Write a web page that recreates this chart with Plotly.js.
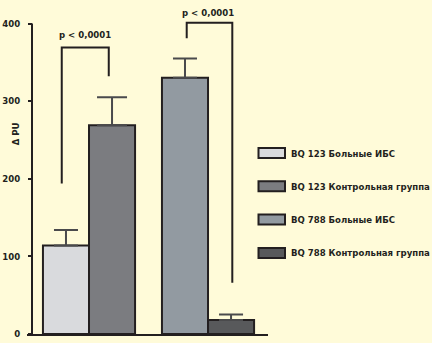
<!DOCTYPE html>
<html>
<head>
<meta charset="utf-8">
<script src="https://cdn.plot.ly/plotly-3.0.1.min.js"></script>
<style>
  html, body { margin: 0; padding: 0; background: #fffbd9; }
  #chart { width: 432px; height: 343px; }
</style>
</head>
<body>
<div id="chart"></div>
<script>
// Groups on the x axis and the four series (one bar each)
const groups = ['BQ 123', 'BQ 788'];
const seriesNames = [
  'BQ 123 Больные ИБС',
  'BQ 123 Контрольная группа',
  'BQ 788 Больные ИБС',
  'BQ 788 Контрольная группа'
];
const seriesGroup = ['BQ 123', 'BQ 123', 'BQ 788', 'BQ 788'];
const meanValues = [114, 269, 330, 18];
const errorValues = [20, 36, 25, 7];
const pLabels = ['p &lt; 0,0001', 'p &lt; 0,0001'];
const yTickValues = [0, 100, 200, 300, 400];
const yTitle = 'Δ PU';

// Styling
const barColors = ['#d9dadd', '#7b7c80', '#929aa1', '#58595b'];
const ink = '#231f20';
const bg = '#fffbd9';
const fontFamily = '"DejaVu Sans Condensed", "Roboto Condensed", "DejaVu Sans", sans-serif';
const fontSize = 9.5;
const textFont = { family: fontFamily, size: fontSize, color: ink, weight: 'bold' };
const barWidth = 0.387;
const capWidths = [12, 15, 12, 12];

const W = 432, H = 343;
const margin = { l: 27, r: 164, t: 8, b: 9 };
const yRange = [0, 420];

const traces = seriesNames.map((name, i) => ({
  type: 'bar',
  name: name,
  x: [seriesGroup[i]],
  y: [meanValues[i]],
  width: [barWidth],
  offset: [i % 2 === 0 ? -barWidth : 0],
  marker: { color: barColors[i], line: { color: ink, width: 2 } },
  error_y: {
    type: 'data', symmetric: false,
    array: [errorValues[i]], arrayminus: [0],
    color: '#4a4a4c', thickness: 2, width: capWidths[i]
  },
  showlegend: false,
  hoverinfo: 'name+y'
}));

// Significance brackets: [left x, right x, left leg bottom, top, right leg bottom]
const brackets = [
  [-0.229, 0.166, 194, 369, 332],
  [0.821, 1.204, 381, 401, 66]
];
const bracketLabelPos = [[-0.035, 386], [0.998, 414]];

const shapes = [];
const annotations = [];

brackets.forEach(b => {
  const [x0, x1, yl, yt, yr] = b;
  shapes.push({
    type: 'path', xref: 'x', yref: 'y',
    path: `M ${x0},${yl} L ${x0},${yt} L ${x1},${yt} L ${x1},${yr}`,
    line: { color: ink, width: 2 }
  });
});
pLabels.forEach((t, i) => {
  annotations.push({
    xref: 'x', yref: 'y', x: bracketLabelPos[i][0], y: bracketLabelPos[i][1],
    text: t, showarrow: false, font: textFont
  });
});

// Vertical axis line from 0 to the top tick
const plotW = W - margin.l - margin.r;
const yAxisPos = 5 / plotW;
shapes.push({
  type: 'line', xref: 'paper', yref: 'y',
  x0: yAxisPos, x1: yAxisPos, y0: 0, y1: yTickValues[yTickValues.length - 1],
  line: { color: ink, width: 2 }
});

// Axis title placed in the tick-label column
annotations.push({
  xref: 'paper', yref: 'y', x: -19 / plotW, y: 258,
  text: yTitle, textangle: -90, showarrow: false, font: textFont
});

// Legend built from the series names and colours
const plotH = H - margin.t - margin.b;
const legendTop = 153, legendStep = 33.3;
const toPX = px => (px - margin.l) / plotW;
const toPY = py => (H - margin.b - py) / plotH;
seriesNames.forEach((name, i) => {
  const cy = legendTop + i * legendStep;
  shapes.push({
    type: 'rect', xref: 'paper', yref: 'paper',
    x0: toPX(258.5), x1: toPX(285), y0: toPY(cy + 5), y1: toPY(cy - 5),
    fillcolor: barColors[i], line: { color: ink, width: 2 }
  });
  annotations.push({
    xref: 'paper', yref: 'paper', x: toPX(289), y: toPY(cy),
    xanchor: 'left', yanchor: 'middle',
    text: name, showarrow: false, font: textFont
  });
});

const layout = {
  width: W, height: H,
  margin: margin,
  paper_bgcolor: bg, plot_bgcolor: bg,
  barmode: 'overlay',
  showlegend: false,
  xaxis: {
    type: 'category', categoryarray: groups, categoryorder: 'array',
    range: [-0.521, 1.504],
    showline: true, linecolor: ink, linewidth: 2,
    showticklabels: false, ticks: '', showgrid: false, zeroline: false,
    fixedrange: true
  },
  yaxis: {
    range: yRange, anchor: 'free', position: yAxisPos,
    tickvals: yTickValues, ticktext: yTickValues.map(String),
    ticks: 'outside', ticklen: 4, tickwidth: 2, tickcolor: ink,
    ticklabelstandoff: 6,
    tickfont: textFont,
    showline: false, showgrid: false, zeroline: false,
    fixedrange: true
  },
  shapes: shapes,
  annotations: annotations
};

Plotly.newPlot('chart', traces, layout, { displayModeBar: false, staticPlot: true });
</script>
</body>
</html>
